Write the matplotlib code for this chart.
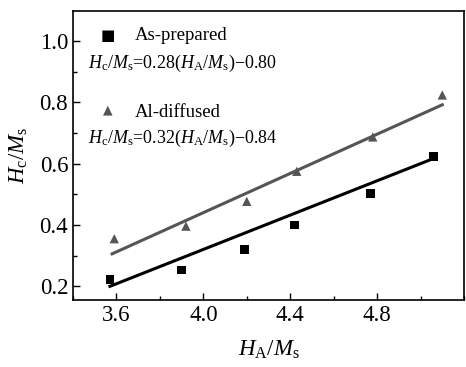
import numpy as np
import matplotlib.pyplot as plt
from matplotlib.ticker import MultipleLocator

plt.rcParams['font.family'] = 'serif'
plt.rcParams['font.serif'] = ['Liberation Serif', 'DejaVu Serif']
plt.rcParams['mathtext.fontset'] = 'custom'
plt.rcParams['mathtext.rm'] = 'Liberation Serif'
plt.rcParams['mathtext.it'] = 'Liberation Serif:italic'

# data
x_prep = [3.57, 3.90, 4.19, 4.42, 4.77, 5.06]
y_prep = [0.223, 0.253, 0.320, 0.400, 0.502, 0.624]
x_al = [3.59, 3.92, 4.20, 4.43, 4.78, 5.10]
y_al = [0.355, 0.396, 0.477, 0.575, 0.687, 0.824]

# linear fits as written on the chart: slope, intercept, x range
fit_prep = (0.28, -0.80, 3.57, 5.06)
fit_al = (0.32, -0.84, 3.58, 5.10)

fig = plt.figure(figsize=(4.66, 3.67), dpi=100)
ax = fig.add_axes([73 / 466, 1 - 300 / 367, 391 / 466, 289 / 367])

for fit, col in ((fit_prep, 'black'), (fit_al, '#555555')):
    xs = np.array(fit[2:])
    ax.plot(xs, fit[0] * xs + fit[1], color=col, lw=2.2)

ax.scatter(x_prep, y_prep, marker='s', s=40, c='black', edgecolors='none', zorder=3)
ax.scatter(x_al, y_al, marker='^', s=45, c='#555555', edgecolors='none', zorder=3)

ax.set_xlim(3.4, 5.2)
ax.set_ylim(0.155, 1.098)
ax.xaxis.set_minor_locator(MultipleLocator(0.2))
ax.yaxis.set_minor_locator(MultipleLocator(0.1))
ax.set_xticks([3.6, 4.0, 4.4, 4.8])
ax.set_yticks([0.2, 0.4, 0.6, 0.8, 1.0])
ax.tick_params(which='both', direction='in', labelsize=16.5, width=1)
ax.tick_params(which='major', length=5)
ax.tick_params(which='minor', length=3)
for s in ax.spines.values():
    s.set_linewidth(1.2)

ax.set_xlabel(r'$H_{\mathrm{A}}/M_{\mathrm{s}}$', fontsize=16.5, labelpad=9)
ax.set_ylabel(r'$H_{\mathrm{c}}/M_{\mathrm{s}}$', fontsize=16.5, labelpad=0)
ax.yaxis.set_label_coords(-0.11, 0.5)

# legend-like annotations
eq1 = r'$H_{\mathrm{c}}/M_{\mathrm{s}}$=0.28($H_{\mathrm{A}}/M_{\mathrm{s}}$)' + '\u22120.80'
eq2 = r'$H_{\mathrm{c}}/M_{\mathrm{s}}$=0.32($H_{\mathrm{A}}/M_{\mathrm{s}}$)' + '\u22120.84'
fig.text(108 / 466, 1 - 36 / 367, '\u25A0', fontsize=11, ha='center', va='center',
         color='black', family='DejaVu Sans')
fig.text(135 / 466, 1 - 36 / 367, 'As-prepared', fontsize=13.5, va='center')
fig.text(88 / 466, 1 - 63 / 367, eq1, fontsize=13, va='center')
fig.text(108 / 466, 1 - 110 / 367, '\u25B2', fontsize=9, ha='center', va='center',
         color='#555555', family='DejaVu Sans')
fig.text(135 / 466, 1 - 112 / 367, 'Al-diffused', fontsize=13.5, va='center')
fig.text(88 / 466, 1 - 138 / 367, eq2, fontsize=13, va='center')

fig.savefig('out.png', dpi=100)
